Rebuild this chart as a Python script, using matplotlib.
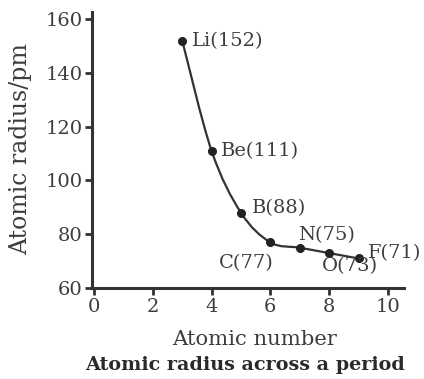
import numpy as np
import matplotlib
matplotlib.use("Agg")
import matplotlib.pyplot as plt
from matplotlib.path import Path
from matplotlib.patches import PathPatch

elements = ["Li", "Be", "B", "C", "N", "O", "F"]
atomic_number = [3, 4, 5, 6, 7, 8, 9]
radius_pm = [152, 111, 88, 77, 75, 73, 71]
x_ticks = [0, 2, 4, 6, 8, 10]
y_ticks = [60, 80, 100, 120, 140, 160]

ink = "#333333"
text_col = "#3d3d3d"
plt.rcParams["font.family"] = ["DejaVu Serif"]

fig = plt.figure(figsize=(4.24, 3.79), dpi=100)
ax = fig.add_axes([0.217, 0.240, 0.736, 0.728])
ax.set_xlim(-0.07, 10.55)
ax.set_ylim(60, 162.6)

# smooth curve through the points (Catmull-Rom as cubic Bezier segments)
xs = np.array(atomic_number, dtype=float)
ys = np.array(radius_pm, dtype=float)
pts = np.column_stack([xs, ys])
verts = [tuple(pts[0])]
codes = [Path.MOVETO]
n = len(pts)
for i in range(n - 1):
    p0 = pts[i - 1] if i > 0 else pts[i]
    p1 = pts[i]
    p2 = pts[i + 1]
    p3 = pts[i + 2] if i + 2 < n else pts[i + 1]
    c1 = p1 + (p2 - p0) / 6.0
    c2 = p2 - (p3 - p1) / 6.0
    verts += [tuple(c1), tuple(c2), tuple(p2)]
    codes += [Path.CURVE4] * 3
ax.add_patch(PathPatch(Path(verts, codes), facecolor="none",
                       edgecolor=ink, lw=1.6, zorder=2))
ax.plot(xs, ys, "o", color="#222222", ms=5.5, zorder=3)

# point labels: (dx, dy) in points, horizontal alignment
offsets = {
    "Li": (7, 0, "left"),
    "Be": (7, 0, "left"),
    "B": (8, 3.5, "left"),
    "C": (2, -15, "right"),
    "N": (-1, 9, "left"),
    "O": (-5, -9.5, "left"),
    "F": (7, 4, "left"),
}
for el, xv, yv in zip(elements, atomic_number, radius_pm):
    dx, dy, ha = offsets[el]
    ax.annotate(f"{el}({yv})", (xv, yv), xytext=(dx, dy),
                textcoords="offset points", ha=ha, va="center",
                fontsize=14, color=text_col)

for side in ["top", "right"]:
    ax.spines[side].set_visible(False)
for side in ["left", "bottom"]:
    ax.spines[side].set_linewidth(2.2)
    ax.spines[side].set_color(ink)

ax.set_xticks(x_ticks)
ax.set_yticks(y_ticks)
ax.tick_params(axis="both", direction="out", length=5, width=2,
               color=ink, labelsize=14, labelcolor=text_col, pad=2)

ax.set_ylabel("Atomic radius/pm", fontsize=17, color=text_col)
ax.yaxis.set_label_coords(-0.23, 0.505)
ax.yaxis.label.set_va("center")
ax.set_xlabel("Atomic number", fontsize=15.2, color=text_col)
ax.xaxis.set_label_coords(0.52, -0.188)
ax.xaxis.label.set_va("center")
fig.text(0.577, 0.037, "Atomic radius across a period", ha="center",
         va="center", fontsize=13.8, fontweight="bold", color="#2a2a2a")

fig.savefig("out.png", dpi=100)
